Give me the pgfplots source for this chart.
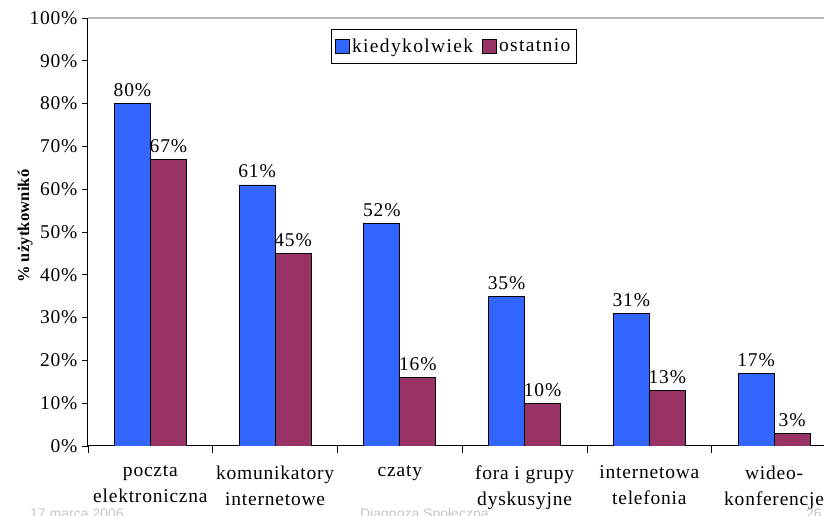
\documentclass[border=0pt]{standalone}
\usepackage{pgfplots}
\pgfplotsset{compat=1.18}
\usepackage{fontspec}
\setmainfont{Liberation Serif}[LetterSpace=4]
\newfontfamily\legfont{Liberation Serif}[LetterSpace=7]
\newfontfamily\ylabfont{Liberation Serif}[LetterSpace=1]
\newfontfamily\footfont{Liberation Sans}
\definecolor{cblue}{HTML}{3366FF}
\definecolor{cmaroon}{HTML}{993366}
\begin{document}
\begin{tikzpicture}
\begin{axis}[
  at={(88pt,70pt)}, anchor=south west,
  scale only axis, width=736pt, height=428pt,
  xmin=-0.5, xmax=5.4, ymin=0, ymax=100,
  ybar=0pt, bar width=36pt,
  axis x line*=bottom, axis y line*=left,
  axis line style={line width=1pt},
  /pgf/number format/assume math mode=true,
  tick align=outside,
  major tick length=6pt, minor tick length=7pt,
  tick style={black, line width=0.8pt},
  ytick={0,10,...,100},
  yticklabel={\pgfmathprintnumber{\tick}\%},
  yticklabel style={font=\fontsize{19.5}{21}\selectfont, xshift=-1pt},
  xtick={0,1,2,3,4,5},
  major x tick style={draw=none},
  minor xtick={-0.5,0.5,1.5,2.5,3.5,4.5},
  xticklabels={{poczta\\elektroniczna},{komunikatory\\internetowe},{czaty},{fora i grupy\\dyskusyjne},{internetowa\\telefonia},{wideo-\\konferencje}},
  xticklabel style={align=center, font=\fontsize{19.5}{26}\selectfont, anchor=north, yshift=-10pt},
  nodes near coords={\pgfmathprintnumber{\pgfplotspointmeta}\%},
  every node near coord/.append style={font=\fontsize{19.5}{21}\selectfont, black, yshift=3pt},
  legend style={at={(0.497,0.975)}, anchor=north, legend columns=2, draw=black, line width=0.8pt,
    font=\legfont\fontsize{19.5}{21}\selectfont, inner xsep=4pt, inner ysep=7.5pt,
    /tikz/every even column/.append style={column sep=7pt}},
  legend image code/.code={\draw[#1, line width=0.8pt] (0pt,-7pt) rectangle (14pt,7pt);},
]
\addplot[fill=cblue, draw=black, line width=0.8pt] coordinates {(0,80) (1,61) (2,52) (3,35) (4,31) (5,17)};
\addplot[fill=cmaroon, draw=black, line width=0.8pt] coordinates {(0,67) (1,45) (2,16) (3,10) (4,13) (5,3)};
\legend{kiedykolwiek, ostatnio}
\draw[gray!55, line width=2pt] (rel axis cs:0,1) -- (rel axis cs:1,1);
\end{axis}
\begin{scope}
\clip (0,0) rectangle (60pt,346pt);
\node[rotate=90, anchor=base west, font=\ylabfont\bfseries\fontsize{16.5}{18}\selectfont, inner sep=0pt] at (29pt,233pt) {\% użytkowników};
\end{scope}
\node[anchor=base west, font=\footfont\fontsize{14}{16}\selectfont, text=gray!45, inner sep=0pt] at (30pt,-3pt) {17 marca 2006};
\node[anchor=base west, font=\footfont\fontsize{14}{16}\selectfont, text=gray!45, inner sep=0pt] at (360pt,-3pt) {Diagnoza Społeczna};
\node[anchor=base west, font=\footfont\fontsize{14}{16}\selectfont, text=gray!45, inner sep=0pt] at (806pt,-3pt) {26};
\pgfresetboundingbox
\path (0,0) rectangle (824pt,516pt);
\end{tikzpicture}
\end{document}
